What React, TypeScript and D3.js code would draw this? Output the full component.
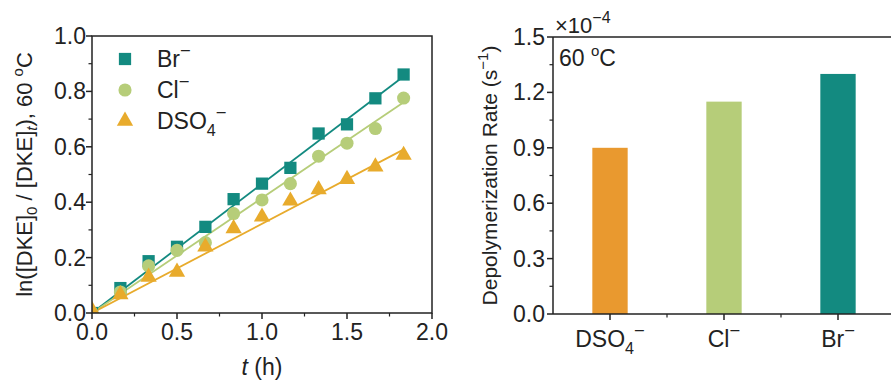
import React from 'react';
import * as d3 from 'd3';

const times = [0, 0.167, 0.333, 0.5, 0.667, 0.833, 1.0, 1.167, 1.333, 1.5, 1.667, 1.833];
const brValues = [0, 0.09, 0.187, 0.239, 0.311, 0.411, 0.467, 0.524, 0.648, 0.681, 0.775, 0.861];
const clValues = [0, 0.076, 0.17, 0.226, 0.254, 0.359, 0.408, 0.467, 0.566, 0.613, 0.666, 0.776];
const dsoValues = [0.01, 0.067, 0.13, 0.148, 0.239, 0.305, 0.347, 0.405, 0.446, 0.483, 0.528, 0.57];
const fitSlopes = [0.466, 0.415, 0.322]; // Br, Cl, DSO4
const fitRange = [0, 1.84];

const xTicks = [0, 0.5, 1.0, 1.5, 2.0];
const yTicksLeft = [0, 0.2, 0.4, 0.6, 0.8, 1.0];

const barCategories = ['DSO4', 'Cl', 'Br'];
const barValues = [0.9, 1.15, 1.3];
const yTicksRight = [0, 0.3, 0.6, 0.9, 1.2, 1.5];

const TEAL = '#138a80';
const GREEN = '#b6cd79';
const ORANGE_BAR = '#e9992f';
const ORANGE = '#e8ab2c';
const FONT = 'Liberation Sans, Arial, sans-serif';
const FS = 23;

function Ion({ name, x, y, anchor = 'start', fs = FS }: { name: string; x: number; y: number; anchor?: string; fs?: number }) {
  if (name === 'DSO4') {
    return (
      <text x={x} y={y} fontSize={fs} textAnchor={anchor as any} fontFamily={FONT} fill="#222">
        DSO<tspan fontSize={fs * 0.7} dy={fs * 0.3}>4</tspan>
        <tspan fontSize={fs * 0.8} dy={-fs * 0.75}>−</tspan>
      </text>
    );
  }
  const base = name === 'Br' ? 'Br' : 'Cl';
  return (
    <text x={x} y={y} fontSize={fs} textAnchor={anchor as any} fontFamily={FONT} fill="#222">
      {base}
      <tspan fontSize={fs * 0.8} dy={-fs * 0.42}>−</tspan>
    </text>
  );
}

export default function App() {
  const W = 891, H = 383;
  const L = { l: 92, r: 432, t: 36, b: 313 };
  const x = d3.scaleLinear().domain([0, 2]).range([L.l, L.r]);
  const y = d3.scaleLinear().domain([0, 1]).range([L.b, L.t]);
  const R = { l: 553, r: 895, t: 37, b: 314 };
  const xb = d3.scaleBand().domain(barCategories).range([R.l, R.r]).paddingInner(0.69).paddingOuter(0.345);
  const yb = d3.scaleLinear().domain([0, 1.5]).range([R.b, R.t]);

  const series = [
    { vals: brValues, color: TEAL, shape: 'square' },
    { vals: clValues, color: GREEN, shape: 'circle' },
    { vals: dsoValues, color: ORANGE, shape: 'triangle' },
  ];
  const lineGen = d3.line<number[]>().x((d) => x(d[0])).y((d) => y(d[1]));
  const sym = (shape: string) => {
    const t = shape === 'square' ? d3.symbolSquare : shape === 'circle' ? d3.symbolCircle : d3.symbolTriangle;
    const size = shape === 'square' ? 150 : shape === 'circle' ? 135 : 115;
    return d3.symbol().type(t).size(size)()!;
  };

  const minorX = d3.range(0.25, 2, 0.5);
  const minorY = d3.range(0.1, 1, 0.2);
  const minorYR = d3.range(0.15, 1.5, 0.3);
  const bandStep = xb.step();

  return (
    <svg width={W} height={H} style={{ position: 'absolute', left: 0, top: 0 }}>
      <rect width={W} height={H} fill="#fff" />
      <defs>
        <clipPath id="clipL">
          <rect x={L.l} y={L.t} width={L.r - L.l} height={L.b - L.t} />
        </clipPath>
      </defs>
      <g clipPath="url(#clipL)">
        {series.map((s, i) => (
          <path
            key={'l' + i}
            d={lineGen([[fitRange[0], fitRange[0] * fitSlopes[i]], [fitRange[1], fitRange[1] * fitSlopes[i]]])!}
            stroke={s.color}
            strokeWidth={1.8}
            fill="none"
          />
        ))}
        {series.map((s, i) =>
          s.vals.map((v, j) => (
            <path key={'m' + i + '-' + j} d={sym(s.shape)} fill={s.color} transform={`translate(${x(times[j])},${y(v)})`} />
          ))
        )}
      </g>
      <rect x={L.l} y={L.t} width={L.r - L.l} height={L.b - L.t} fill="none" stroke="#222" strokeWidth={1.5} />
      {xTicks.map((t) => (
        <g key={'xt' + t}>
          <line x1={x(t)} x2={x(t)} y1={L.b} y2={L.b + 6} stroke="#222" strokeWidth={1.5} />
          <text x={x(t)} y={L.b + 27} fontSize={FS} fontFamily={FONT} textAnchor="middle" fill="#222">
            {d3.format('.1f')(t)}
          </text>
        </g>
      ))}
      {minorX.map((t) => (
        <line key={'mx' + t} x1={x(t)} x2={x(t)} y1={L.b} y2={L.b + 3.5} stroke="#222" strokeWidth={1.2} />
      ))}
      {yTicksLeft.map((t) => (
        <g key={'yt' + t}>
          <line x1={L.l - 6} x2={L.l} y1={y(t)} y2={y(t)} stroke="#222" strokeWidth={1.5} />
          <text x={L.l - 6} y={y(t) + 8} fontSize={FS} fontFamily={FONT} textAnchor="end" fill="#222">
            {d3.format('.1f')(t)}
          </text>
        </g>
      ))}
      {minorY.map((t) => (
        <line key={'my' + t} x1={L.l - 3.5} x2={L.l} y1={y(t)} y2={y(t)} stroke="#222" strokeWidth={1.2} />
      ))}
      <text x={(L.l + L.r) / 2} y={375} fontSize={FS} fontFamily={FONT} textAnchor="middle" fill="#222">
        <tspan fontStyle="italic">t</tspan> (h)
      </text>
      <text
        transform={`translate(32,${(L.t + L.b) / 2}) rotate(-90)`}
        fontSize={22}
        fontFamily={FONT}
        textAnchor="middle"
        fill="#222"
      >
        ln([DKE]<tspan fontSize={15} dy={5}>0</tspan>
        <tspan dy={-5}> / [DKE]</tspan>
        <tspan fontSize={15} dy={5} fontStyle="italic">t</tspan>
        <tspan dy={-5}>), 60 </tspan>
        <tspan fontSize={15} dy={-9}>o</tspan>
        <tspan dy={9}>C</tspan>
      </text>
      {series.map((s, i) => (
        <g key={'lg' + i}>
          <path d={sym(s.shape)} fill={s.color} transform={`translate(125,${59 + i * 31})`} />
          <Ion name={['Br', 'Cl', 'DSO4'][i]} x={157} y={67 + i * 31} />
        </g>
      ))}

      {barCategories.map((c, i) => (
        <rect key={'b' + c} x={xb(c)} y={yb(barValues[i])} width={xb.bandwidth()} height={yb(0) - yb(barValues[i])} fill={[ORANGE_BAR, GREEN, TEAL][i]} />
      ))}
      <line x1={R.l} x2={R.r} y1={R.t} y2={R.t} stroke="#222" strokeWidth={1.5} />
      <line x1={R.l} x2={R.r} y1={R.b} y2={R.b} stroke="#222" strokeWidth={1.5} />
      <line x1={R.l} x2={R.l} y1={R.t} y2={R.b} stroke="#222" strokeWidth={1.5} />
      {yTicksRight.map((t) => (
        <g key={'yr' + t}>
          <line x1={R.l - 6} x2={R.l} y1={yb(t)} y2={yb(t)} stroke="#222" strokeWidth={1.5} />
          <text x={R.l - 8} y={yb(t) + 8} fontSize={FS} fontFamily={FONT} textAnchor="end" fill="#222">
            {d3.format('.1f')(t)}
          </text>
        </g>
      ))}
      {minorYR.map((t) => (
        <line key={'myr' + t} x1={R.l - 3.5} x2={R.l} y1={yb(t)} y2={yb(t)} stroke="#222" strokeWidth={1.2} />
      ))}
      {barCategories.map((c, i) => {
        const cx = xb(c)! + xb.bandwidth() / 2;
        return (
          <g key={'xc' + c}>
            <line x1={cx} x2={cx} y1={R.b} y2={R.b + 6} stroke="#222" strokeWidth={1.5} />
            {i < barCategories.length - 1 && (
              <line x1={cx + bandStep / 2} x2={cx + bandStep / 2} y1={R.b} y2={R.b + 3.5} stroke="#222" strokeWidth={1.2} />
            )}
            <Ion name={c} x={cx} y={R.b + 33} anchor="middle" />
          </g>
        );
      })}
      <text x={555} y={33} fontSize={22} fontFamily={FONT} fill="#222">
        ×10<tspan fontSize={16} dy={-10}>−4</tspan>
      </text>
      <text x={559} y={66} fontSize={FS} fontFamily={FONT} fill="#222">
        60 <tspan fontSize={15} dy={-10}>o</tspan>
        <tspan dy={10}>C</tspan>
      </text>
      <text
        transform={`translate(497,${(R.t + R.b) / 2}) rotate(-90)`}
        fontSize={21}
        fontFamily={FONT}
        textAnchor="middle"
        fill="#222"
      >
        Depolymerization Rate (s<tspan fontSize={15} dy={-9}>−1</tspan>
        <tspan dy={9}>)</tspan>
      </text>
    </svg>
  );
}
